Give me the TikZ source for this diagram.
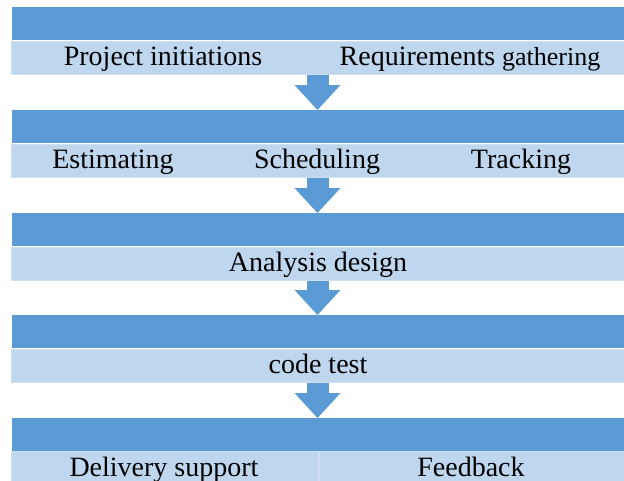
\documentclass[tikz,border=0pt]{standalone}
\usepackage{fontspec}
\setmainfont{Liberation Serif}
\usetikzlibrary{positioning}
\usetikzlibrary{arrows.meta}
\definecolor{bardark}{RGB}{91, 155, 213}
\definecolor{barlight}{RGB}{190, 215, 238}
\definecolor{baredge}{RGB}{208, 224, 242}

\begin{document}
\begin{tikzpicture}[x=1pt, y=-1pt,
    darkbar/.style={fill=bardark, inner sep=0, minimum width=612pt, minimum height=33pt, anchor=north west},
    lightbar/.style={fill=barlight, draw=baredge, line width=1pt, inner sep=0, minimum height=33pt, anchor=north west},
    bartext/.style={font=\fontsize{28}{32}\selectfont, anchor=base, inner sep=0},
    downarrow/.style={draw=bardark, line width=22pt, -{Triangle[width=46pt, length=25pt, line width=0pt]}}]
    \useasboundingbox (0,0) rectangle (624,480);

    % Row 1: project initiations / requirements gathering
    \node[darkbar] (d1) at (12,7) {};
    \node[lightbar, minimum width=613pt] (l1) at (10.5,40.5) {};
    \node[bartext] (t11) at (163,65.5) {Project initiations};
    \node[bartext] (t12) at (470,65.5) {Requirements {\fontsize{26}{30}\selectfont gathering}};

    % Row 2: estimating / scheduling / tracking
    \node[darkbar] (d2) at (12,110) {};
    \node[lightbar, minimum width=613pt] (l2) at (10.5,143.5) {};
    \node[bartext] (t21) at (113,168.5) {Estimating};
    \node[bartext] (t22) at (317,168.5) {Scheduling};
    \node[bartext] (t23) at (521,168.5) {Tracking};
    \draw[downarrow] (l1.south) -- (l1.south |- d2.north); % arrow row 1 -> row 2

    % Row 3: analysis design
    \node[darkbar] (d3) at (12,213) {};
    \node[lightbar, minimum width=613pt] (l3) at (10.5,246.5) {};
    \node[bartext] (t3) at (318,271.5) {Analysis design};
    \draw[downarrow] (l2.south) -- (l2.south |- d3.north); % arrow row 2 -> row 3

    % Row 4: code test
    \node[darkbar] (d4) at (12,315) {};
    \node[lightbar, minimum width=613pt] (l4) at (10.5,348.5) {};
    \node[bartext] (t4) at (318,373.5) {code test};
    \draw[downarrow] (l3.south) -- (l3.south |- d4.north); % arrow row 3 -> row 4

    % Row 5: delivery support / feedback (split in two halves)
    \node[darkbar] (d5) at (12,418) {};
    \node[lightbar, minimum width=307pt] (l5a) at (10.5,450.5) {};
    \node[lightbar, minimum width=306pt, right=0pt of l5a] (l5b) {};
    \node[bartext] (t51) at (164,476) {Delivery support};
    \node[bartext] (t52) at (471,476) {Feedback};
    \draw[downarrow] (l4.south) -- (l4.south |- d5.north); % arrow row 4 -> row 5
\end{tikzpicture}
\end{document}
